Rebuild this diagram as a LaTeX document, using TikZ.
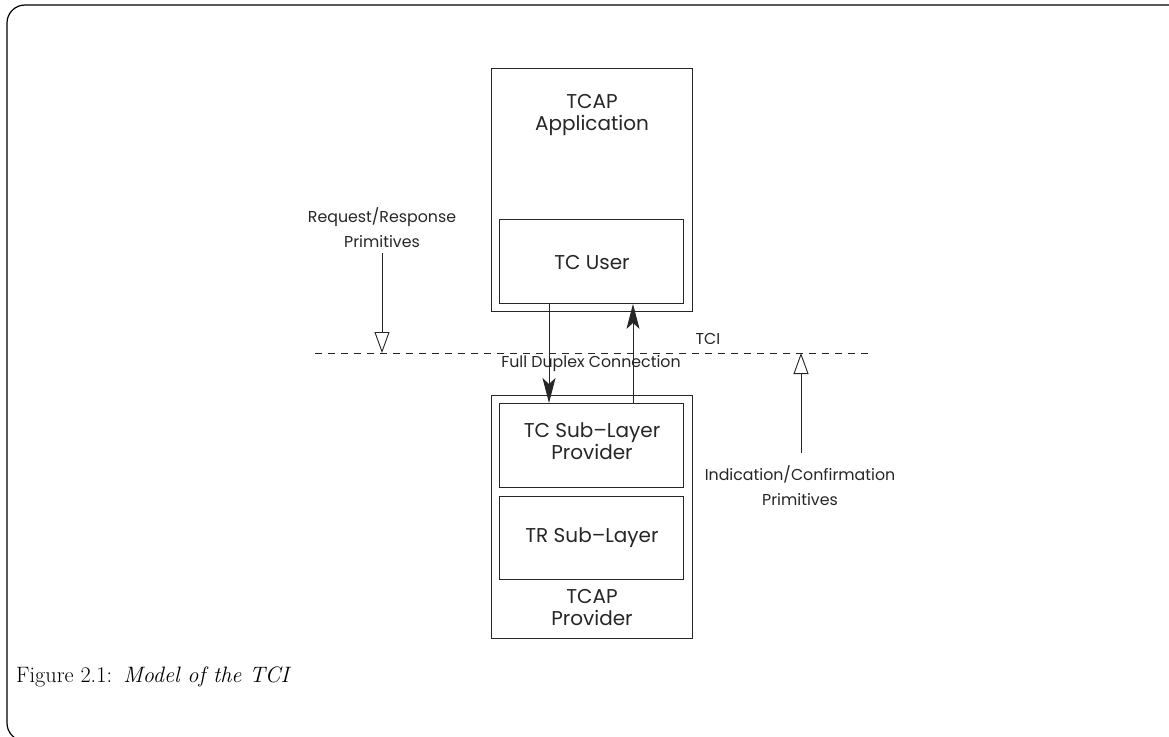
\documentclass[tikz,border=0pt]{standalone}
\usepackage{fontspec}
\newfontfamily\dfont{Poppins}
\usetikzlibrary{arrows.meta,calc}
\tikzset{
  box/.style={draw=black!85, line width=0.9pt, rectangle, inner sep=0pt, anchor=north west},
  big/.style={font=\dfont\fontsize{20}{22}\selectfont, align=center, text=black!85},
  small/.style={font=\dfont\fontsize{15.8}{25}\selectfont, align=center, text=black!85},
  conn/.style={line width=0.9pt, draw=black!85, -{Stealth[length=25pt,width=13pt,inset=6pt]}},
  prim/.style={line width=0.9pt, draw=black!85, -{Triangle[open,length=21pt,width=15pt,fill=white]}},
  tci/.style={line width=0.9pt, draw=black!85, dash pattern=on 7pt off 6pt},
}
\begin{document}
\begin{tikzpicture}[x=1pt,y=-1pt]
\useasboundingbox (0,0) rectangle (1169,736);
% frame
\draw[line width=1.2pt, rounded corners=18pt] (1190,741) -- (7,741) -- (7,5) -- (1190,5);
% upper boxes
\node[box, minimum width=201pt, minimum height=243pt] (app) at (491,68) {};
\node[box, minimum width=184pt, minimum height=84pt] (tcuser) at (499,219) {};
\node[big] (apptxt) at (592,115) {TCAP\\Application};
\node[big] (tcusertxt) at (592,263) {TC User};
% lower boxes
\node[box, minimum width=201pt, minimum height=243pt] (prov) at (491,395) {};
\node[box, minimum width=184pt, minimum height=84pt] (tcsub) at (499,403) {};
\node[box, minimum width=184pt, minimum height=83pt] (trsub) at (499,496) {};
\node[big] (tcsubtxt) at (592,441) {TC Sub\textendash Layer\\Provider};
\node[big] (trsubtxt) at (592,538) {TR Sub\textendash Layer};
\node[big] (provtxt) at (592,608) {TCAP\\Provider};
% TCI line
\coordinate (tcil) at (315,353);
\coordinate (tcir) at (868,353);
\draw[tci] (tcil) -- (tcir);
\node[small] (tcitxt) at (708,339) {TCI};
\node[small] (fdc) at (591,364) {Full Duplex Connection};
% connectors
\coordinate (dnx) at (549,0);
\coordinate (upx) at (633,0);
\draw[conn] (tcuser.south -| dnx) -- (tcsub.north -| dnx);
\draw[conn] (tcsub.north -| upx) -- (tcuser.south -| upx);
% primitives
\node[small] (req) at (382,228) {Request/Response\\Primitives};
\coordinate (reqtip) at (382,353);
\draw[prim] (req.south |- 0,253) -- (reqtip);
\node[small] (ind) at (800,486) {Indication/Confirmation\\Primitives};
\coordinate (indtip) at (801,353);
\draw[prim] (801,453) -- (indtip);
% caption
\node[anchor=west, inner sep=0pt, font=\fontsize{22.3}{26}\selectfont] (cap) at (16,677) {Figure 2.1:\enspace\textit{Model of the TCI}};
\end{tikzpicture}
\end{document}
